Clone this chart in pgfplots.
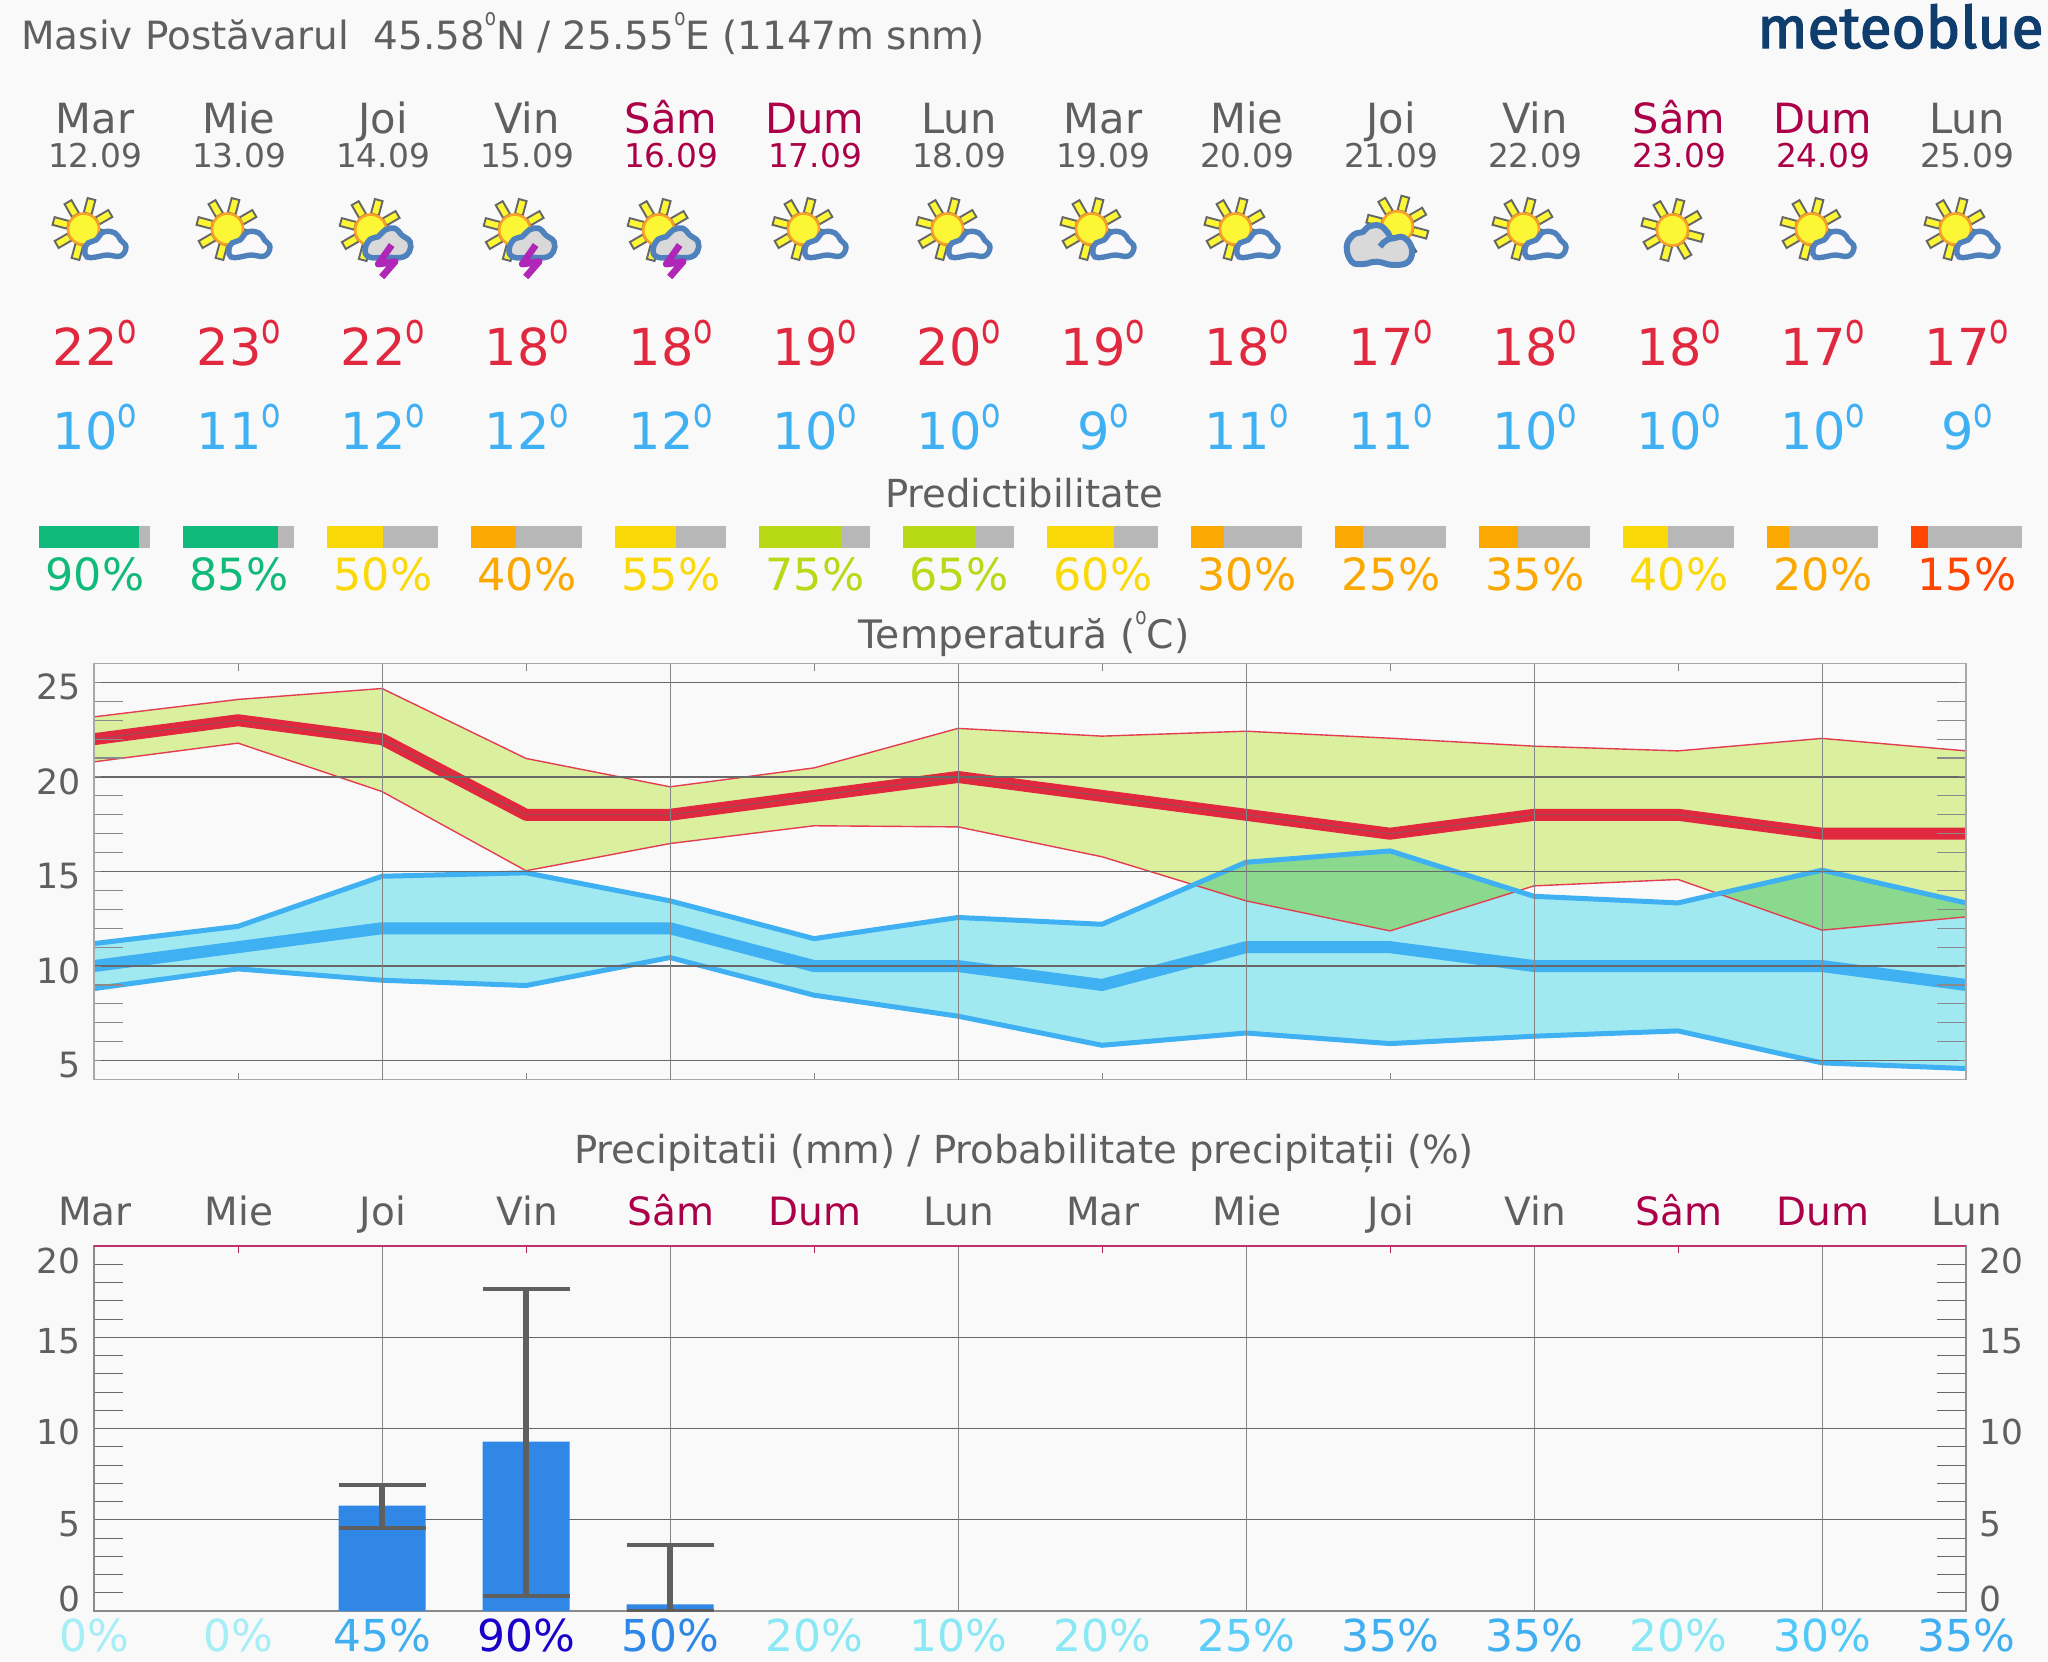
\documentclass[border=0pt]{standalone}
\usepackage{fontspec}
\usepackage{pgfplots}
\usepackage{pgfplotstable}
\pgfplotsset{compat=1.18}
\setmainfont{DejaVu Sans}
\newfontfamily\logofont[FakeBold=2.2]{Fira Sans}
\newcommand\fs[1]{\fontsize{#1}{#1}\selectfont}
\newcommand\dg[1]{\raisebox{#1}{\scalebox{.62}[.82]{o}}}
\newcommand\dgs{\raisebox{12pt}{\scalebox{.47}[.6]{o}}}
\newcommand\yl[2]{\raisebox{#1}[0pt][0pt]{#2}}
\definecolor{bg}{HTML}{F9F9F9}
\definecolor{txt}{HTML}{5F5F5F}
\definecolor{crim}{HTML}{AB0047}
\definecolor{hot}{HTML}{E0283F}
\definecolor{cold}{HTML}{3FB0F2}
\definecolor{gr1}{HTML}{10BA7A}
\definecolor{ye}{HTML}{FBD908}
\definecolor{ora}{HTML}{FBA800}
\definecolor{lim}{HTML}{B8D916}
\definecolor{rd}{HTML}{FF4500}
\definecolor{pg}{HTML}{B7B7B7}
\definecolor{bandhot}{HTML}{DBF09F}
\definecolor{bandcold}{HTML}{A0E9F1}
\definecolor{bandboth}{HTML}{8AD98F}
\definecolor{gridh}{HTML}{686868}
\definecolor{gridv}{HTML}{858585}
\definecolor{minort}{HTML}{8A8A8A}
\definecolor{border}{HTML}{A8A8A8}
\definecolor{p0}{HTML}{A5EEF5}
\definecolor{p1}{HTML}{8AE8F5}
\definecolor{p25}{HTML}{5CCDF8}
\definecolor{p30}{HTML}{4FC8FA}
\definecolor{p35}{HTML}{40AFF0}
\definecolor{p50}{HTML}{2E87E6}
\definecolor{p90}{HTML}{1A00C8}
\definecolor{barb}{HTML}{3087E6}
\definecolor{sunf}{HTML}{FBF734}
\definecolor{suno}{HTML}{F8A028}
\definecolor{rayo}{HTML}{666666}
\definecolor{cloudo}{HTML}{4F81BD}
\definecolor{cloudf}{HTML}{D9D9D9}
\definecolor{bolt}{HTML}{B027B8}
\definecolor{logoc}{HTML}{0F3D6E}

\pgfplotstableread{
x rup  rlo   bup   blo  tmax tmin
0 23.18 20.80 11.19 8.81 22 10
1 24.10 21.79 12.10 9.85 23 11
2 24.68 19.23 14.75 9.25 22 12
3 20.98 15.04 14.93 8.97 18 12
4 19.48 16.48 13.45 10.45 18 12
5 20.48 17.42 11.45 8.46 19 10
6 22.57 17.36 12.57 7.35 20 10
7 22.16 15.78 12.21 5.81 19 9
8 22.42 13.45 15.49 6.46 18 11
9 22.05 11.86 16.09 5.90 17 11
10 21.63 14.24 13.69 6.29 18 10
11 21.38 14.58 13.34 6.57 18 10
12 22.04 11.90 15.07 4.88 17 10
13 21.38 12.60 13.34 4.58 17 9
}\tempdata

\newcommand\sunicon[2]{% centre x, y in pixels
  \foreach \a in {30,75,...,345}{
    \begin{scope}[shift={(#1,#2)},rotate=\a]
      \filldraw[fill=sunf,draw=rayo,line width=.95pt] (16,-4) rectangle (31,4);
    \end{scope}}
  \filldraw[fill=sunf,draw=suno,line width=1.3pt] (#1,#2) circle (15.5);
}
\newcommand\partly[1]{%
  \sunicon{#1-10.5}{229}
  \draw[draw=cloudo,fill=bg,line width=2.7pt,shift={(#1,0)}] plot[smooth cycle,tension=.7] coordinates {
   (-9.2,250)(-6,243)(2,240)(9.6,232)(21,233)(26.5,240)(32,247)(26.5,256)(13,255)(2,257)(-7,257)};
}
\newcommand\storm[1]{%
  \sunicon{#1-11.3}{230}
  \draw[draw=cloudo,fill=cloudf,line width=2.8pt,shift={(#1,0)}] plot[smooth cycle,tension=.7] coordinates {
   (-17,250)(-12,239.3)(-3.7,236.7)(3,230)(13,228.3)(19.7,235)(28,241.7)(27.3,251.7)(19.7,257.3)(4.7,257.3)(-12,257.3)};
  \draw[draw=bolt,line width=3.4pt,line join=round,shift={(#1,0)}] (9.7,245)--(-3.7,264)--(13,261.7)--(-0.3,277);
}
\newcommand\bigcloud[1]{%
  \sunicon{#1+7.3}{226.7}
  \draw[draw=cloudo,fill=cloudf,line width=3pt,shift={(#1,0)}] plot[smooth cycle,tension=.7] coordinates {
   (-43.3,246.7)(-36.7,235)(-26.7,231.7)(-21.7,226.7)(-10,225.7)(-1.7,233.3)(1.7,238.3)(13.3,237.3)(21.7,248.3)(18.3,261.7)(3.3,265)(-13.3,261.7)(-26.7,264)(-38.3,261.7)};
  \draw[draw=cloudo,line width=3pt,shift={(#1,0)}] (-10,246.7) .. controls (-6,241) and (-2,239) .. (1.7,238.3);
}
\newcommand\PB[3]{%
  \addplot[fill=#1,draw=none] coordinates {(#2,0)};
  \addplot[fill=pg,draw=none] coordinates {(#3,0)};
  \addplot[fill=none,draw=none] coordinates {(29.73,0)};
}

\begin{document}
\begin{tikzpicture}
\path[fill=bg,use as bounding box] (0pt,0pt) rectangle (1024pt,-830.5pt);

\begin{scope}[x=.5pt,y=-.5pt]
  % header
  \node[anchor=base west,inner sep=0pt,text=txt,font=\fs{19.45}] at (21,49.5)
    {Masiv Postăvarul\ \ 45.58\dgs N / 25.55\dgs E (1147m snm)};
  \node[anchor=base west,inner sep=0pt,text=logoc] at (1757,48)
    {\resizebox{143pt}{!}{\logofont meteoblue}};
  % day columns
  \foreach \i/\d/\dt/\c/\hi/\lo in {
    0/Mar/12.09/txt/22/10,1/Mie/13.09/txt/23/11,2/Joi/14.09/txt/22/12,3/Vin/15.09/txt/18/12,
    4/Sâm/16.09/crim/18/12,5/Dum/17.09/crim/19/10,6/Lun/18.09/txt/20/10,7/Mar/19.09/txt/19/9,
    8/Mie/20.09/txt/18/11,9/Joi/21.09/txt/17/11,10/Vin/22.09/txt/18/10,11/Sâm/23.09/crim/18/10,
    12/Dum/24.09/crim/17/10,13/Lun/25.09/txt/17/9}{
    \pgfmathsetmacro\cx{95+144*\i}
    \node[anchor=base,inner sep=0pt,text=\c,font=\fs{20.8}] at (\cx,133) {\d};
    \node[anchor=base,inner sep=0pt,text=\c,font=\fs{16.4}] at (\cx,167) {\dt};
    \node[anchor=base,inner sep=0pt,text=hot,font=\fs{25.5}] at (\cx,365.5) {\hi\dg{11pt}};
    \node[anchor=base,inner sep=0pt,text=cold,font=\fs{25.5}] at (\cx,449) {\lo\dg{11pt}};
  }
  % icons
  \foreach \i in {0,1,5,6,7,8,10,12,13}{\pgfmathsetmacro\cx{94+144*\i}\partly{\cx}}
  \foreach \i in {2,3,4}{\pgfmathsetmacro\cx{94+144*\i}\storm{\cx}}
  \pgfmathsetmacro\cx{94+144*9}\bigcloud{\cx}
  \pgfmathsetmacro\cx{94+144*11-5.6}\sunicon{\cx}{230}
  % section titles
  \node[anchor=base,inner sep=0pt,text=txt,font=\fs{19.3}] at (1024,507) {Predictibilitate};
  \node[anchor=base,inner sep=0pt,text=txt,font=\fs{19.6}] at (1024,648) {Temperatură (\dgs C)};
  \node[anchor=base,inner sep=0pt,text=txt,font=\fs{19.3}] at (1024,1163.5) {Precipitatii (mm) / Probabilitate precipitații (\%)};
  % predictability labels
  \foreach \i/\v/\c in {0/90/gr1,1/85/gr1,2/50/ye,3/40/ora,4/55/ye,5/75/lim,6/65/lim,7/60/ye,8/30/ora,9/25/ora,10/35/ora,11/40/ye,12/20/ora,13/15/rd}{
    \pgfmathsetmacro\cx{95+144*\i}
    \node[anchor=base,inner sep=0pt,text=\c,font=\fs{22.2}] at (\cx,590) {\v\%};
  }
\end{scope}

% predictability bars
\begin{axis}[at={(0pt,-274pt)},anchor=south west,scale only axis,width=1024pt,height=11pt,
  xmin=0,xmax=1845.05,ymin=-.5,ymax=.5,hide axis,xbar stacked,bar width=11pt,clip=false]
  \addplot[fill=none,draw=none] coordinates {(35.3,0)};
  \PB{gr1}{90}{10}\PB{gr1}{85}{15}\PB{ye}{50}{50}\PB{ora}{40}{60}\PB{ye}{55}{45}
  \PB{lim}{75}{25}\PB{lim}{65}{35}\PB{ye}{60}{40}\PB{ora}{30}{70}\PB{ora}{25}{75}
  \PB{ora}{35}{65}\PB{ye}{40}{60}\PB{ora}{20}{80}\PB{rd}{15}{85}
\end{axis}

% temperature
\begin{axis}[at={(47pt,-539.75pt)},anchor=south west,scale only axis,width=936pt,height=208pt,
  xmin=0,xmax=13,ymin=4,ymax=26,axis on top,
  axis line style={draw=border,line width=.9pt},
  xtick={1,3,...,13},xticklabels={},
  extra x ticks={2,4,...,12},extra x tick labels={},
  extra x tick style={xmajorgrids=true,major tick length=0pt,major x grid style={draw=gridv,line width=.5pt}},
  tick align=inside,major tick length=3.5pt,
  tick style={draw=gridv,line width=.5pt},
  ytick={5,10,...,25},yticklabels={\yl{-8.6pt}{5},\yl{-8.6pt}{10},\yl{-8.6pt}{15},\yl{-8.6pt}{20},\yl{-8.6pt}{25}},
  ymajorgrids=true,major y grid style={draw=gridh,line width=.6pt},
  minor y tick num=4,minor tick length=14.5pt,minor tick style={draw=minort,line width=.6pt},
  yticklabel style={text=txt,font=\fs{17.4},inner sep=0pt,xshift=-6.5pt},
  ]
  \addplot[fill=bandhot,draw=none] coordinates {(0,23.18)(1,24.10)(2,24.68)(3,20.98)(4,19.48)(5,20.48)(6,22.57)(7,22.16)(8,22.42)(9,22.05)(10,21.63)(11,21.38)(12,22.04)(13,21.38)
    (13,12.60)(12,11.90)(11,14.58)(10,14.24)(9,11.86)(8,13.45)(7,15.78)(6,17.36)(5,17.42)(4,16.48)(3,15.04)(2,19.23)(1,21.79)(0,20.80)} --cycle;
  \addplot[fill=bandcold,draw=none] coordinates {(0,11.19)(1,12.10)(2,14.75)(3,14.93)(4,13.45)(5,11.45)(6,12.57)(7,12.21)(8,15.49)(9,16.09)(10,13.69)(11,13.34)(12,15.07)(13,13.34)
    (13,4.58)(12,4.88)(11,6.57)(10,6.29)(9,5.90)(8,6.46)(7,5.81)(6,7.35)(5,8.46)(4,10.45)(3,8.97)(2,9.25)(1,9.85)(0,8.81)} --cycle;
  \addplot[fill=bandboth,draw=none] coordinates {(7.65,14.28)(8,15.49)(9,16.09)(9.85,13.92)(9,11.86)(8,13.45)} --cycle;
  \addplot[fill=bandboth,draw=none] coordinates {(11.30,13.8)(12,15.07)(13,13.34)(13,12.6)(12,11.9)} --cycle;
  \addplot[draw=hot!90!white,line width=.7pt] table[x=x,y=rup]{\tempdata};
  \addplot[draw=hot!90!white,line width=.7pt] table[x=x,y=rlo]{\tempdata};
  \addplot[draw=cold,line width=2.5pt,line join=bevel] table[x=x,y=bup]{\tempdata};
  \addplot[draw=cold,line width=2.5pt,line join=bevel] table[x=x,y=blo]{\tempdata};
  \addplot[draw=hot,line width=6pt,line join=bevel] table[x=x,y=tmax]{\tempdata};
  \addplot[draw=cold,line width=6pt,line join=bevel] table[x=x,y=tmin]{\tempdata};
  \addplot[draw=gridh,line width=.4pt,opacity=.75] coordinates {(0,22)(1,23)(2,22)(3,18)(4,18)(5,19)(6,20)(7,19)(8,18)(9,17)(10,18)(11,18)(12,17)};
\end{axis}

% precipitation: bars, grid, left axis
\begin{axis}[at={(47pt,-805.5pt)},anchor=south west,scale only axis,width=936pt,height=182.5pt,
  xmin=0,xmax=13,ymin=0,ymax=20,
  axis line style={draw=minort,line width=.7pt},
  xtick={1,3,...,13},xticklabels={},
  xtick pos=upper,tick align=inside,major tick length=3.5pt,
  x tick style={draw=crim!85!white,line width=.5pt},
  extra x ticks={2,4,...,12},extra x tick labels={},
  extra x tick style={xmajorgrids=true,major tick length=0pt,major x grid style={draw=gridv,line width=.5pt}},
  ytick={0,5,...,20},
  yticklabels={\yl{0pt}{0},\yl{-8.2pt}{5},\yl{-8.2pt}{10},\yl{-8.2pt}{15},\yl{-13.5pt}{20}},
  ytick pos=both,
  ymajorgrids=true,major y grid style={draw=gridh,line width=.55pt},
  minor y tick num=4,minor tick length=14.5pt,minor tick style={draw=minort,line width=.6pt},
  y tick style={draw=gridh,line width=.5pt},
  yticklabel pos=left,
  yticklabel style={text=txt,font=\fs{17.2},inner sep=0pt,xshift=-6.5pt},
  ]
  \addplot[ybar,bar width=43.5pt,bar shift=0pt,fill=barb,draw=none,
    error bars/.cd,y dir=both,y explicit,
    error bar style={draw=txt,line width=2.8pt},
    error mark options={rotate=90,mark size=21.75pt,draw=txt,line width=2.2pt}]
    coordinates {
     (2,5.77) += (0,1.15) -= (0,1.22)
     (3,9.28) += (0,8.35) -= (0,8.45)
     (4,0.37) += (0,3.25) -= (0,0.37)
    };
\end{axis}

% precipitation: probability labels below
\begin{axis}[at={(47pt,-805.5pt)},anchor=south west,scale only axis,width=936pt,height=182.5pt,
  xmin=0,xmax=13,ymin=0,ymax=20,axis line style={draw=none},ytick=\empty,
  xtick={0,1,...,13},major tick length=0pt,tick style={draw=none},
  xticklabels={{\textcolor{p0}{0\%}},{\textcolor{p0}{0\%}},{\textcolor{p35}{45\%}},{\textcolor{p90}{90\%}},{\textcolor{p50}{50\%}},{\textcolor{p1}{20\%}},{\textcolor{p1}{10\%}},{\textcolor{p1}{20\%}},{\textcolor{p25}{25\%}},{\textcolor{p35}{35\%}},{\textcolor{p35}{35\%}},{\textcolor{p1}{20\%}},{\textcolor{p30}{30\%}},{\textcolor{p35}{35\%}}},
  xtick pos=lower,
  xticklabel style={font=\fs{22},anchor=base,yshift=-20.4pt},
  ]
\end{axis}

% precipitation: day names on top, numbers on the right
\begin{axis}[at={(47pt,-805.5pt)},anchor=south west,scale only axis,width=936pt,height=182.5pt,
  xmin=0,xmax=13,ymin=0,ymax=20,
  axis x line*=top,axis y line*=right,axis line style={-},
  x axis line style={draw=crim!80!white,line width=.6pt},
  y axis line style={draw=minort,line width=.7pt},
  xtick={0,1,...,13},major tick length=0pt,tick style={draw=none},
  xticklabels={Mar,Mie,Joi,Vin,{\textcolor{crim}{Sâm}},{\textcolor{crim}{Dum}},Lun,Mar,Mie,Joi,Vin,{\textcolor{crim}{Sâm}},{\textcolor{crim}{Dum}},Lun},
  xticklabel style={text=txt,font=\fs{19.5},anchor=base,yshift=10.5pt,xshift=.5pt},
  ytick={0,5,...,20},
  yticklabels={\yl{0pt}{0},\yl{-8.2pt}{5},\yl{-8.2pt}{10},\yl{-8.2pt}{15},\yl{-13.5pt}{20}},
  yticklabel style={text=txt,font=\fs{17.2},inner sep=0pt,xshift=6.5pt},
  ]
\end{axis}
\end{tikzpicture}
\end{document}
